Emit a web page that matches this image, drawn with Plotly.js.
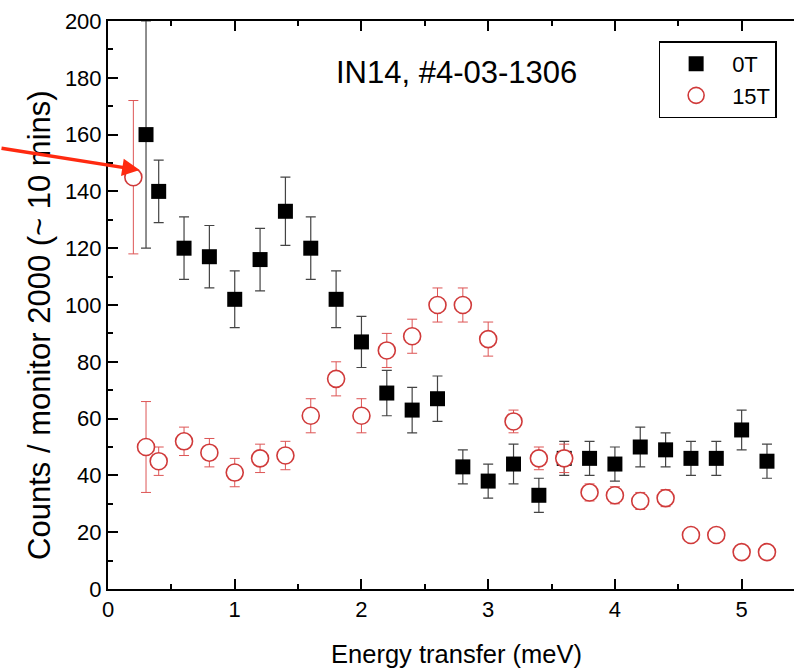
<!DOCTYPE html>
<html><head><meta charset="utf-8">
<script src="https://cdn.plot.ly/plotly-3.0.1.min.js"></script>
<style>html,body{margin:0;padding:0;overflow:hidden;background:#fff;width:794px;height:672px}#chart{width:830px;height:672px}</style>
</head><body><div id="chart"></div><script>
// 0T data (black squares)
const x0T = [0.3,0.4,0.6,0.8,1.0,1.2,1.4,1.6,1.8,2.0,2.2,2.4,2.6,2.8,3.0,3.2,3.4,3.6,3.8,4.0,4.2,4.4,4.6,4.8,5.0,5.2];
const y0T = [160,140,120,117,102,116,133,120,102,87,69,63,67,43,38,44,33,46,46,44,50,49,46,46,56,45];
const e0T = [40,11,11,11,10,11,12,11,10,9,8,8,8,6,6,7,6,6,6,6,7,6,6,6,7,6];
// 15T data (red open circles); null = no visible error bar
const x15T = [0.2,0.3,0.4,0.6,0.8,1.0,1.2,1.4,1.6,1.8,2.0,2.2,2.4,2.6,2.8,3.0,3.2,3.4,3.6,3.8,4.0,4.2,4.4,4.6,4.8,5.0,5.2];
const y15T = [145,50,45,52,48,41,46,47,61,74,61,84,89,100,100,88,59,46,46,34,33,31,32,19,19,13,13];
const e15T = [27,16,5,5,5,5,5,5,6,6,6,6,6,6,6,6,4,4,5,3,3,3,3,null,null,null,null];
const seriesNames = ['0T','15T'];
const yTicks = [0,20,40,60,80,100,120,140,160,180,200];
const xTicks = [0,1,2,3,4,5];
const yTitle = 'Counts / monitor 2000 (~ 10 mins)';
const xTitle = 'Energy transfer (meV)';
const chartLabel = 'IN14, #4-03-1306';

const FONT = 'Liberation Sans, Arial, sans-serif';

const traces = [
  {
    x: x0T, y: y0T, name: seriesNames[0], type: 'scatter', mode: 'markers',
    marker: {symbol: 'square', size: 15, color: '#000', line: {width: 0}},
    error_y: {type: 'data', array: e0T, visible: true, color: '#444', thickness: 1.2, width: 5},
    cliponaxis: true
  },
  {
    x: x15T, y: y15T, name: seriesNames[1], type: 'scatter', mode: 'markers',
    marker: {symbol: 'circle', size: 17, color: '#fff', line: {width: 1.6, color: '#d03a3a'}},
    error_y: {type: 'data', array: e15T, visible: true, color: '#dd5555', thickness: 1, width: 5},
    cliponaxis: true
  }
];

const axisCommon = {
  showline: true, linecolor: '#000', linewidth: 2, mirror: 'ticks',
  ticks: 'inside', ticklen: 10, tickwidth: 2, tickcolor: '#000',
  showgrid: false, zeroline: false,
  tickfont: {family: FONT, size: 22, color: '#000'}
};

const layout = {
  width: 830, height: 672,
  margin: {l: 108, r: 25, t: 21, b: 83},
  paper_bgcolor: '#fff', plot_bgcolor: '#fff',
  showlegend: true,
  xaxis: Object.assign({}, axisCommon, {
    range: [0, 5.5], tickvals: xTicks, ticktext: xTicks.map(String),
    minor: {ticks: 'inside', dtick: 0.5, tick0: 0, ticklen: 5, tickwidth: 2, tickcolor: '#000'},
    title: {text: xTitle, font: {family: FONT, size: 25.5, color: '#000'}, standoff: 24}
  }),
  yaxis: Object.assign({}, axisCommon, {
    range: [0, 200], tickvals: yTicks, ticktext: yTicks.map(String),
    minor: {ticks: 'inside', dtick: 10, tick0: 0, ticklen: 5, tickwidth: 2, tickcolor: '#000'}
  }),
  legend: {
    x: 0.79, y: 0.964, xanchor: 'left', yanchor: 'top',
    bordercolor: '#000', borderwidth: 1.5, bgcolor: '#fff',
    font: {family: FONT, size: 22, color: '#000'},
    itemwidth: 62,
    tracegroupgap: 0
  },
  annotations: [
    {xref: 'paper', yref: 'paper', x: 0.5, y: 0.91, text: chartLabel,
     showarrow: false, font: {family: FONT, size: 31, color: '#000'}, xanchor: 'center', yanchor: 'middle'},
    {xref: 'paper', yref: 'paper', x: 0, y: 0.465, xshift: -68, text: yTitle, textangle: -90,
     showarrow: false, font: {family: FONT, size: 31, color: '#000'}, xanchor: 'center', yanchor: 'middle'},
    {xref: 'x', yref: 'y', x: 0.25, y: 147.5, text: '', showarrow: true,
     arrowhead: 2, arrowsize: 1, arrowwidth: 3.5, arrowcolor: '#ff2a10', ax: -150, ay: -22}
  ]
};

Plotly.newPlot('chart', traces, layout, {displayModeBar: false, staticPlot: true});
</script></body></html>
